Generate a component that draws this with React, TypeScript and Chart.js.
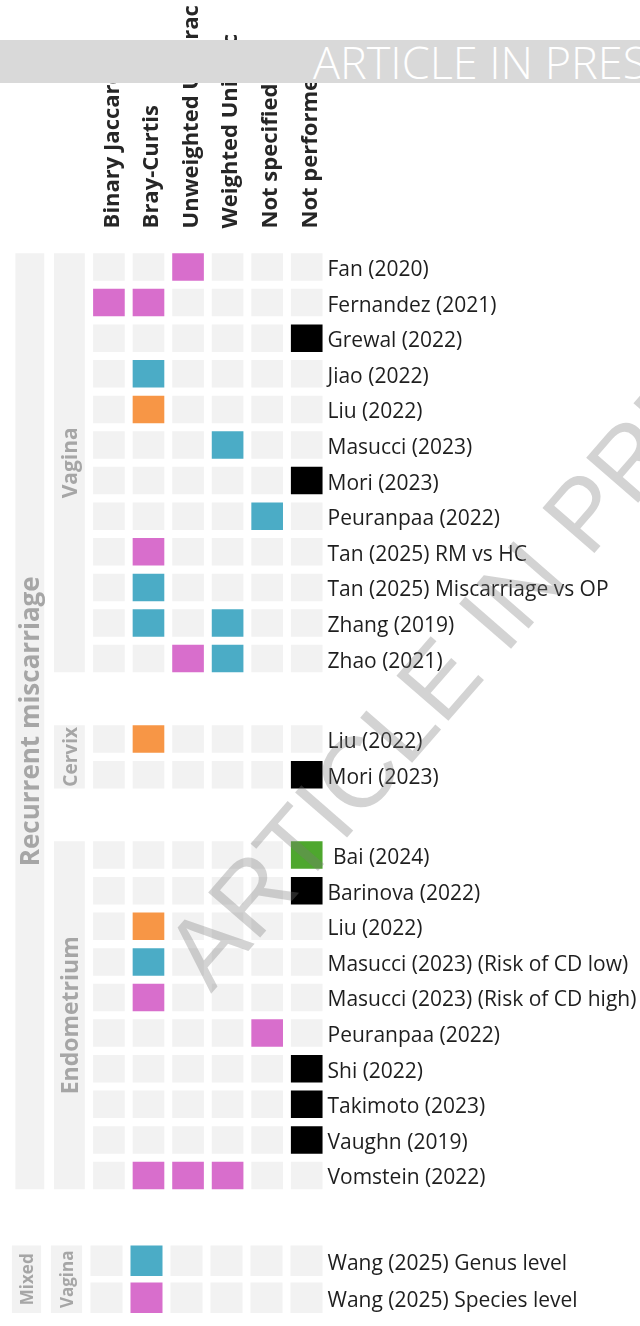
import React, { useEffect, useRef } from 'react';
import { Chart, registerables } from 'chart.js';

Chart.register(...registerables);

// ---------- data ----------
const METHODS = ['Binary Jaccard', 'Bray-Curtis', 'Unweighted UniFrac', 'Weighted UniFrac', 'Not specified', 'Not performed'];
const BAND_COLUMNS = ['Condition', 'Sample site'];

// result codes: 0 = none, 1 = pink, 2 = blue, 3 = orange, 4 = black, 5 = green
const RESULT_COLORS = ['#F2F2F2', '#D86ECC', '#4BACC6', '#F79646', '#000000', '#4EA72E'];

const VAGINA_STUDIES = [
  'Fan (2020)', 'Fernandez (2021)', 'Grewal (2022)', 'Jiao (2022)', 'Liu (2022)', 'Masucci (2023)',
  'Mori (2023)', 'Peuranpaa (2022)', 'Tan (2025) RM vs HC', 'Tan (2025) Miscarriage vs OP', 'Zhang (2019)', 'Zhao (2021)',
];
const VAGINA_RESULTS = [
  [0, 0, 1, 0, 0, 0],
  [1, 1, 0, 0, 0, 0],
  [0, 0, 0, 0, 0, 4],
  [0, 2, 0, 0, 0, 0],
  [0, 3, 0, 0, 0, 0],
  [0, 0, 0, 2, 0, 0],
  [0, 0, 0, 0, 0, 4],
  [0, 0, 0, 0, 2, 0],
  [0, 1, 0, 0, 0, 0],
  [0, 2, 0, 0, 0, 0],
  [0, 2, 0, 2, 0, 0],
  [0, 0, 1, 2, 0, 0],
];

const CERVIX_STUDIES = ['Liu (2022)', 'Mori (2023)'];
const CERVIX_RESULTS = [
  [0, 3, 0, 0, 0, 0],
  [0, 0, 0, 0, 0, 4],
];

const ENDOMETRIUM_STUDIES = [
  ' Bai (2024)', 'Barinova (2022)', 'Liu (2022)', 'Masucci (2023) (Risk of CD low)', 'Masucci (2023) (Risk of CD high)',
  'Peuranpaa (2022)', 'Shi (2022)', 'Takimoto (2023)', 'Vaughn (2019)', 'Vomstein (2022)',
];
const ENDOMETRIUM_RESULTS = [
  [0, 0, 0, 0, 0, 5],
  [0, 0, 0, 0, 0, 4],
  [0, 3, 0, 0, 0, 0],
  [0, 2, 0, 0, 0, 0],
  [0, 1, 0, 0, 0, 0],
  [0, 0, 0, 0, 1, 0],
  [0, 0, 0, 0, 0, 4],
  [0, 0, 0, 0, 0, 4],
  [0, 0, 0, 0, 0, 4],
  [0, 1, 1, 1, 0, 0],
];

const MIXED_STUDIES = ['Wang (2025) Genus level', 'Wang (2025) Species level'];
const MIXED_RESULTS = [
  [0, 2, 0, 0, 0, 0],
  [0, 1, 0, 0, 0, 0],
];

const CONDITIONS = ['Recurrent miscarriage', 'Mixed'];
const SITES = ['Vagina', 'Cervix', 'Endometrium'];

// ---------- layout / style constants ----------
const FONT = "'Open Sans', 'Noto Sans', sans-serif";
const BAND_COLOR = '#F2F2F2';
const BAND_TEXT = '#A6A6A6';
const LABEL_COLOR = '#1E1E1E';
const HEADER_COLOR = '#262626';
const GROUP_GAP = 1.26;
const LABEL_SIZES: Record<string, number> = {
  'Recurrent miscarriage': 26, Vagina: 21, Cervix: 19, Endometrium: 23, Mixed: 17, 'Vagina ': 17,
};

type Group = { site: string; studies: string[]; results: number[][] };

function layoutRows(groups: Group[], half: number) {
  const rows: { label: string; pos: number; results: number[] }[] = [];
  const siteBands: any[] = [];
  let p = 0;
  groups.forEach((g, gi) => {
    if (gi > 0) p += GROUP_GAP;
    const start = p;
    g.studies.forEach((s, i) => {
      rows.push({ label: s, pos: p, results: g.results[i] });
      p += 1;
    });
    siteBands.push({ x: BAND_COLUMNS[1], y: [start - half, p - 1 + half], name: g.site });
  });
  return { rows, siteBands, first: rows[0].pos - half, last: rows[rows.length - 1].pos + half };
}

const bandLabelPlugin = {
  id: 'bandLabels',
  afterDatasetsDraw(chart: any) {
    const ctx = chart.ctx;
    [0, 1].forEach((di) => {
      const meta = chart.getDatasetMeta(di);
      const ds = chart.data.datasets[di];
      meta.data.forEach((el: any, i: number) => {
        const name = ds.data[i].name as string;
        const key = ds.data[i].key ?? name;
        const { x, y, base } = el.getProps(['x', 'y', 'base'], true);
        ctx.save();
        ctx.translate(x + 1, (y + base) / 2);
        ctx.rotate(-Math.PI / 2);
        ctx.font = `bold ${LABEL_SIZES[key] || 20}px ${FONT}`;
        ctx.fillStyle = BAND_TEXT;
        ctx.textAlign = 'center';
        ctx.textBaseline = 'middle';
        ctx.fillText(name, 0, 1);
        ctx.restore();
      });
    });
  },
};

const watermarkPlugin = {
  id: 'watermark',
  afterDraw(chart: any) {
    const ctx = chart.ctx;
    ctx.save();
    ctx.translate(211, 994);
    ctx.rotate((-49 * Math.PI) / 180);
    ctx.font = "100px 'Liberation Sans', Arial, sans-serif";
    ctx.fillStyle = 'rgba(120,120,120,0.33)';
    ctx.textBaseline = 'alphabetic';
    ctx.fillText('ARTICLE IN PRESS', 0, 0);
    ctx.restore();
  },
};

function makeConfig(opts: {
  condition: string;
  groups: Group[];
  half: number;
  yMin: number;
  yMax: number;
  padding: any;
  showHeader: boolean;
  headerHeight: number;
  siteKeySuffix?: string;
  plugins: any[];
}) {
  const { rows, siteBands, first, last } = layoutRows(opts.groups, opts.half);
  if (opts.siteKeySuffix) siteBands.forEach((b) => (b.key = b.name + opts.siteKeySuffix));
  const cells = rows.flatMap((r) =>
    r.results.map((c, j) => ({ x: METHODS[j], y: [r.pos - opts.half, r.pos + opts.half], c }))
  );
  return {
    type: 'bar',
    data: {
      labels: [...BAND_COLUMNS, ...METHODS],
      datasets: [
        {
          data: [{ x: BAND_COLUMNS[0], y: [first, last], name: opts.condition }],
          backgroundColor: BAND_COLOR,
          grouped: false,
          barPercentage: 0.73,
          categoryPercentage: 1,
        },
        {
          data: siteBands,
          backgroundColor: BAND_COLOR,
          grouped: false,
          barPercentage: 0.78,
          categoryPercentage: 1,
        },
        {
          data: cells,
          backgroundColor: (ctx: any) => RESULT_COLORS[ctx.raw ? ctx.raw.c : 0],
          grouped: false,
          barPercentage: 0.8,
          categoryPercentage: 1,
        },
      ],
    },
    options: {
      responsive: false,
      animation: false,
      layout: { padding: opts.padding },
      plugins: { legend: { display: false }, tooltip: { enabled: false }, title: { display: false } },
      scales: {
        x: {
          type: 'category',
          position: 'top',
          display: opts.showHeader,
          grid: { display: false, drawTicks: false },
          border: { display: false },
          ticks: {
            autoSkip: false,
            minRotation: 90,
            maxRotation: 90,
            padding: 3,
            labelOffset: 30,
            color: HEADER_COLOR,
            font: { family: FONT, size: 22, weight: 'bold' },
            callback: (_v: any, i: number) => (i < BAND_COLUMNS.length ? '' : METHODS[i - BAND_COLUMNS.length]),
          },
          afterFit: (s: any) => {
            s.height = opts.headerHeight;
          },
        },
        y: {
          type: 'linear',
          position: 'right',
          reverse: true,
          min: opts.yMin,
          max: opts.yMax,
          grid: { display: false, drawTicks: false },
          border: { display: false },
          afterBuildTicks: (s: any) => {
            s.ticks = rows.map((r) => ({ value: r.pos }));
          },
          ticks: {
            autoSkip: false,
            padding: 1,
            labelOffset: 3,
            color: LABEL_COLOR,
            font: { family: FONT, size: 21, weight: 500 },
            callback: (_v: any, i: number) => rows[i].label,
          },
          afterFit: (s: any) => {
            s.width = 313.5;
          },
        },
      },
    },
    plugins: [bandLabelPlugin, ...opts.plugins],
  } as any;
}

export default function App() {
  const topRef = useRef<HTMLCanvasElement>(null);
  const bottomRef = useRef<HTMLCanvasElement>(null);

  useEffect(() => {
    const top = new Chart(
      topRef.current as HTMLCanvasElement,
      makeConfig({
        condition: CONDITIONS[0],
        groups: [
          { site: SITES[0], studies: VAGINA_STUDIES, results: VAGINA_RESULTS },
          { site: SITES[1], studies: CERVIX_STUDIES, results: CERVIX_RESULTS },
          { site: SITES[2], studies: ENDOMETRIUM_STUDIES, results: ENDOMETRIUM_RESULTS },
        ],
        half: 0.386,
        yMin: -1,
        yMax: 26,
        padding: { top: 0, bottom: 17.4, left: 6.5, right: 0 },
        showHeader: true,
        headerHeight: 231.4,
        plugins: [watermarkPlugin],
      })
    );
    const bottom = new Chart(
      bottomRef.current as HTMLCanvasElement,
      makeConfig({
        condition: CONDITIONS[1],
        groups: [{ site: SITES[0], studies: MIXED_STUDIES, results: MIXED_RESULTS }],
        half: 0.411,
        yMin: -1,
        yMax: 1.5,
        padding: { top: 6.5, bottom: 1, left: 6.5, right: 0 },
        showHeader: false,
        headerHeight: 0,
        siteKeySuffix: ' ',
        plugins: [],
      })
    );
    return () => {
      top.destroy();
      bottom.destroy();
    };
  }, []);

  return (
    <div style={{ position: 'absolute', left: 0, top: 0, width: 640, height: 1326, overflow: 'hidden', background: '#fff' }}>
      <canvas ref={topRef} width={640} height={1210} style={{ position: 'absolute', left: 0, top: 0, width: 640, height: 1210 }} />
      <canvas ref={bottomRef} width={640} height={120} style={{ position: 'absolute', left: 0, top: 1210, width: 640, height: 120 }} />
      <div
        style={{
          position: 'absolute', left: 0, top: 40, width: 640, height: 43, background: '#D9D9D9', color: '#fff',
          fontFamily: FONT, fontWeight: 300, fontSize: 45, lineHeight: '43px', whiteSpace: 'nowrap', overflow: 'hidden',
        }}
      >
        <span style={{ position: 'absolute', left: 313, top: 0 }}>ARTICLE IN PRESS</span>
      </div>
    </div>
  );
}
